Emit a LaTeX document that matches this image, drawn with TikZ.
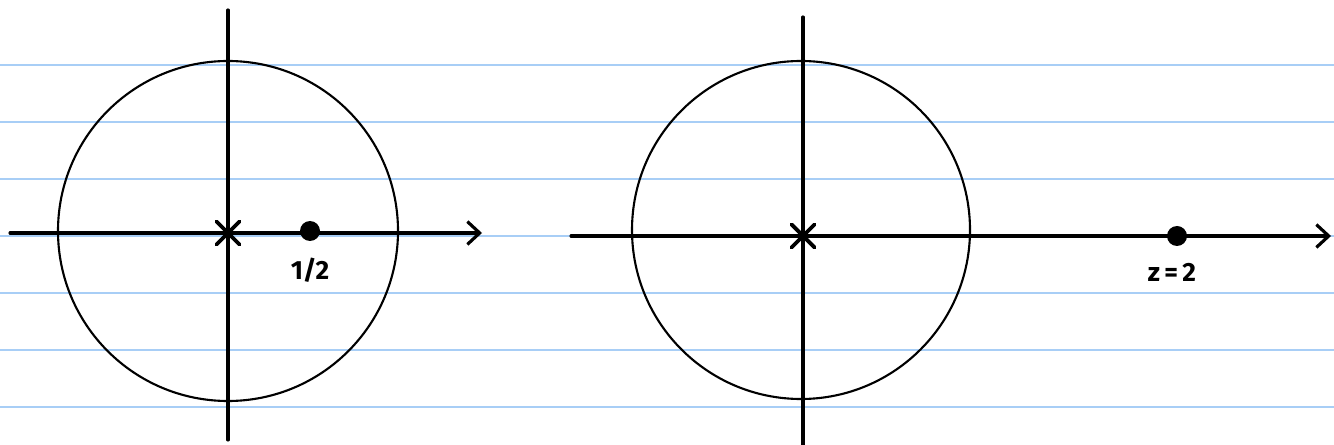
\documentclass[tikz,border=0pt]{standalone}
\usepackage{fontspec}
\setmainfont{Fira Sans}
\usetikzlibrary{arrows.meta,shapes.misc,positioning}

\definecolor{ruleblue}{RGB}{168,206,246}

\begin{document}
\begin{tikzpicture}[x=0.02cm,y=-0.02cm,>={Straight Barb[length=7pt,width=13pt,line width=1.8pt]},
  axis/.style={line width=1.8pt,line cap=round},
  ruling/.style={draw=ruleblue,line width=0.8pt},
  circ/.style={line width=1.2pt},
  pole/.style={cross out,draw,line width=2.2pt,line cap=round,minimum size=11pt,inner sep=0pt},
  zero/.style={circle,fill,inner sep=0pt,minimum size=0.4cm},
  lbl/.style={font=\fontsize{15}{17}\selectfont\bfseries}]
\useasboundingbox (0,0) rectangle (1334,445);
% ruled paper
\foreach \y in {65,122,...,410}
  \draw[ruling] (0,\y) -- (1334,\y);

%left plane: zero inside the circle
\coordinate (L-west) at (10,233);
\coordinate (L-east) at (482,233);
\coordinate (L-north) at (228,10);
\coordinate (L-south) at (228,440);
\draw[circ] (228,231) circle[radius=170];
\draw[axis,->] (L-west) -- (L-east);
\draw[axis] (L-north) -- (L-south);
\node[pole] (L-pole) at (228,233) {};
\node[zero] (L-zero) at (310,231) {};
\node[lbl,below=0.2cm of L-zero] (L-label) {1/2};

%right plane: zero outside the circle
\coordinate (R-west) at (571,236);
\coordinate (R-east) at (1331,236);
\coordinate (R-north) at (803,17);
\coordinate (R-south) at (803,445);
\draw[circ] (801,230) circle[radius=169];
\draw[axis,->] (R-west) -- (R-east);
\draw[axis] (R-north) -- (R-south);
\node[pole] (R-pole) at (803,236) {};
\node[zero] (R-zero) at (1177,236) {};
\node[lbl,below=0.22cm of R-zero,xshift=-0.1cm] (R-label) {z\,=\,2};
\end{tikzpicture}
\end{document}
